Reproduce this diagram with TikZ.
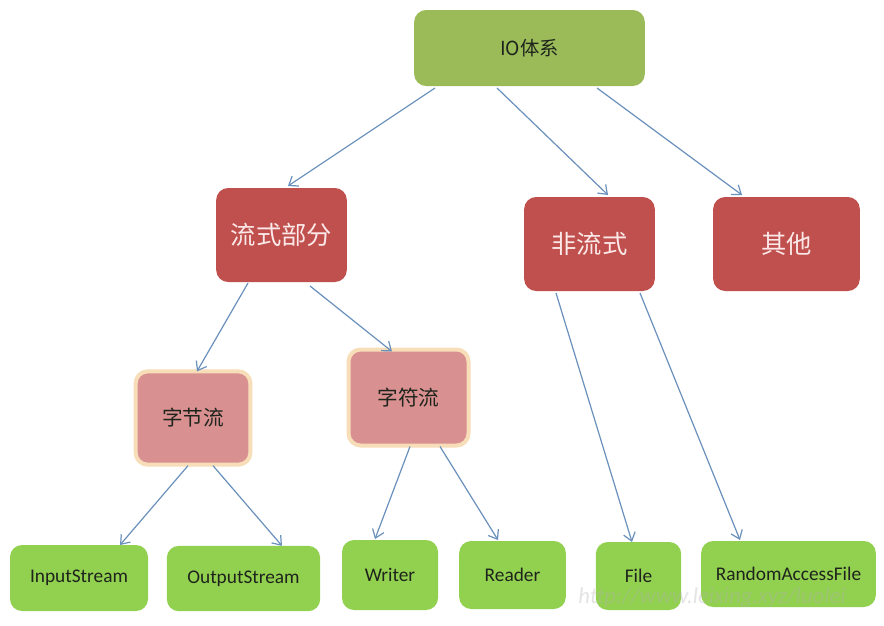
\documentclass[tikz,border=0pt]{standalone}
\usepackage{fontspec}
\setmainfont{Carlito}
\newfontfamily\cjk{Noto Sans CJK SC}
\usetikzlibrary{calc,arrows.meta}
\definecolor{iogreen}{HTML}{9BBB59}
\definecolor{boxred}{HTML}{C0504D}
\definecolor{boxpink}{HTML}{D99090}
\definecolor{glow}{HTML}{F7DDB8}
\definecolor{leafgreen}{HTML}{92D050}
\definecolor{arrowblue}{HTML}{6A90BC}
\definecolor{redtext}{HTML}{FBE8E8}
\definecolor{darktext}{HTML}{1E241C}
\tikzset{
  base/.style={rounded corners=9pt, inner sep=0pt, outer sep=0pt},
  topbox/.style={base, fill=iogreen, minimum width=173pt, minimum height=57pt, font=\cjk\fontsize{14.5}{16}\selectfont, text=darktext},
  redbox/.style={base, fill=boxred, minimum height=70.5pt, font=\cjk\fontsize{19}{21}\selectfont, text=redtext},
  pinkbox/.style={base, fill=boxpink, draw=glow, line width=3pt, font=\cjk\fontsize{15.5}{17}\selectfont, text=darktext},
  leaf/.style={base, fill=leafgreen, font=\fontsize{14.5}{16}\selectfont, text=darktext},
  arr/.style={draw=arrowblue, line width=0.9pt, -{Straight Barb[length=6pt,width=9pt]}}
}
\begin{document}
\begin{tikzpicture}[x=0.75pt, y=-0.75pt]
\useasboundingbox (0,0) rectangle (884,625);
\fill[white] (0,0) rectangle (884,625);
% nodes
\node[topbox] (io) at (529.5,48) {IO体系};
\node[redbox, minimum width=98pt] (fl) at (281.5,235) {流式部分};
\node[redbox, minimum width=98pt] (fei) at (589.5,244) {非流式};
\node[redbox, minimum width=110pt] (qt) at (786.5,244) {其他};
\node[pinkbox, minimum width=86pt, minimum height=70pt] (zj) at (193,418) {字节流};
\node[pinkbox, minimum width=90pt, minimum height=72pt] (zf) at (408.5,397.5) {字符流};
\node[leaf, minimum width=103.5pt, minimum height=49.5pt] (in) at (79,578) {InputStream};
\node[leaf, minimum width=115pt, minimum height=49pt] (out) at (243.5,578.5) {OutputStream};
\node[leaf, minimum width=72pt, minimum height=52.5pt] (wr) at (390,575) {Writer};
\node[leaf, minimum width=80pt, minimum height=51pt] (rd) at (512.5,575) {Reader};
\node[leaf, minimum width=64pt, minimum height=51pt] (fi) at (638.5,576) {File};
\node[leaf, minimum width=131pt, minimum height=49.5pt] (raf) at (788.5,574) {RandomAccessFile};
% connectors
\draw[arr] ($(io.south)+(-94.5,2)$) -- ($(fl.north)+(6.5,-2)$);
\draw[arr] ($(io.south)+(-32.5,2)$) -- ($(fei.north)+(18.5,-2)$);
\draw[arr] ($(io.south)+(67.5,2)$) -- ($(qt.north)+(-44.5,-2)$);
\draw[arr] ($(fl.south)+(-33.5,1)$) -- ($(zj.north)+(4,0)$);
\draw[arr] ($(fl.south)+(28.5,4)$) -- ($(zf.north)+(-16.5,2)$);
\draw[arr] ($(zj.south)+(-5,1)$) -- ($(in.north)+(41,0)$);
\draw[arr] ($(zj.south)+(20,1)$) -- ($(out.north)+(38.5,0)$);
\draw[arr] ($(zf.south)+(1.5,1)$) -- ($(wr.north)+(-15,-1)$);
\draw[arr] ($(zf.south)+(31.5,1)$) -- ($(rd.north)+(-14.5,-1)$);
\draw[arr] ($(fei.south)+(-33.5,2)$) -- ($(fi.north)+(-6.5,0)$);
\draw[arr] ($(fei.south)+(50.5,2)$) -- ($(raf.north)+(-48.5,-1)$);
% watermark
\node[font=\fontsize{17}{19}\selectfont\itshape, text=black!30, text opacity=0.35] (wm) at (712,598) {http://www.leixing.xyz/luolei};
\end{tikzpicture}
\end{document}
